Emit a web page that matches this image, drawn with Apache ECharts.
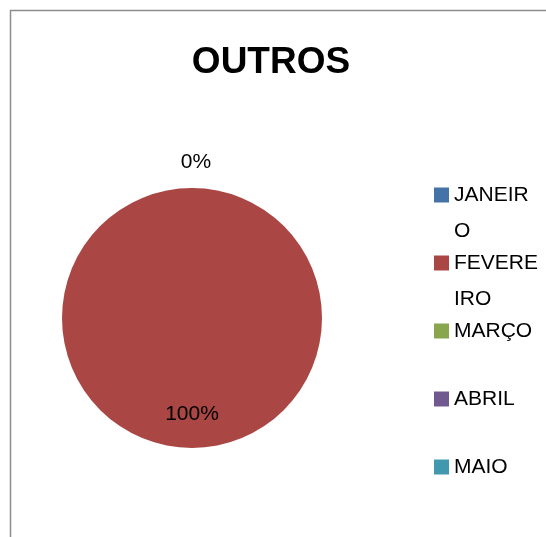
<!DOCTYPE html>
<html>
<head>
<meta charset="utf-8">
<title>OUTROS</title>
<script src="https://cdn.jsdelivr.net/npm/echarts@6/dist/echarts.min.js"></script>
<style>
  html, body { margin: 0; padding: 0; background: #fff; }
  #chart { width: 546px; height: 537px; }
</style>
</head>
<body>
<div id="chart"></div>
<script>
// chart data
var months = ['JANEIRO', 'FEVEREIRO', 'MARÇO', 'ABRIL', 'MAIO'];
var values = [0, 1, null, null, null]; // only JANEIRO and FEVEREIRO have a value
var colors = ['#4572A7', '#AA4643', '#89A54E', '#71588F', '#4198AF'];

var font = '"Liberation Sans", Arial, sans-serif';

// legend text wraps after 6 letters like the original, padded to 3 lines so every item has the same height
function wrapName(name) {
  if (name.length > 6) {
    return '\n' + name.slice(0, 6) + '\n' + name.slice(6);
  }
  return '\n' + name + '\n';
}

var pieData = months.map(function (m, i) {
  var item = { name: m, value: values[i] };
  if (values[i] != null && values[i] > 0) {
    item.label = { position: 'inside' }; // big slice gets its label inside
  }
  return item;
});

var chart = echarts.init(document.getElementById('chart'));

var option = {
  animation: false,
  color: colors,
  title: {
    text: 'OUTROS',
    left: 266,
    top: 39,
    textAlign: 'center',
    textStyle: { fontFamily: font, fontSize: 37, fontWeight: 'bold', color: '#000' }
  },
  legend: {
    orient: 'vertical',
    left: 429,
    top: 136,
    itemWidth: 15,
    itemHeight: 15,
    itemGap: -40,
    icon: 'rect',
    selectedMode: false,
    formatter: wrapName,
    textStyle: { fontFamily: font, fontSize: 21, lineHeight: 36, color: '#000' }
  },
  graphic: [
    { // chart area border (top and left edge visible)
      type: 'rect',
      silent: true,
      shape: { x: 10.5, y: 10.5, width: 700, height: 700 },
      style: { fill: 'none', stroke: '#8c8c8c', lineWidth: 1.5 }
    }
  ],
  series: [
    {
      type: 'pie',
      center: [192, 318],
      radius: 130,
      startAngle: 90,
      clockwise: true,
      avoidLabelOverlap: false,
      itemStyle: { borderWidth: 0 },
      label: {
        show: true,
        position: 'outside',
        formatter: function (p) { return Math.round(p.percent) + '%'; },
        fontFamily: font,
        fontSize: 21,
        color: '#000'
      },
      labelLine: { show: false, length: 26, length2: 0 },
      labelLayout: function (p) {
        if (pieData[p.dataIndex].label) {
          return { dy: 28 }; // push the inside label down like the original
        }
        return { align: 'center', dx: 9 };
      },
      emphasis: { disabled: true },
      data: pieData
    }
  ]
};

chart.setOption(option);
</script>
</body>
</html>
